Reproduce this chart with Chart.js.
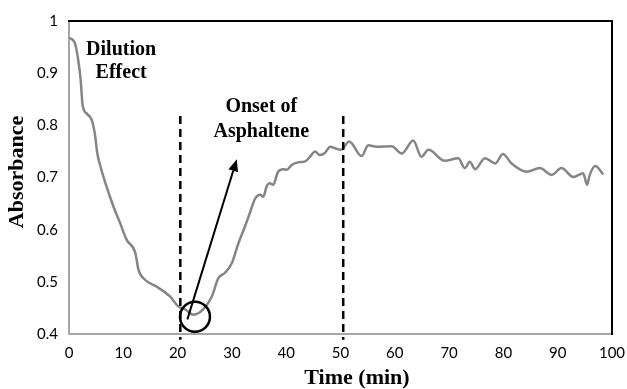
<!DOCTYPE html>
<html>
<head>
<meta charset="utf-8">
<script src="https://cdn.jsdelivr.net/npm/chart.js@4.4.0/dist/chart.umd.min.js"></script>
<style>
  html, body { margin: 0; padding: 0; background: #fff; }
  #wrap { width: 627px; height: 389px; position: relative; }
</style>
</head>
<body>
<div id="wrap"><canvas id="c"></canvas></div>
<script>
// ---- data ----
const timeMin = [0, 1.1, 1.7, 2.15, 2.5, 3.3, 4.2, 4.8, 5.2, 5.8, 6.9, 8.2, 9.4, 10.6, 12.2, 12.8, 14.0, 16.1, 18.6, 20.1,
  21.4, 22.9, 24.7, 26.3, 27.5, 28.7, 30.0, 31.2, 32.4, 33.3, 34.3, 35.2, 35.8, 36.4, 37.0, 37.6, 38.5, 39.5, 40.1, 41.0,
  42.2, 43.5, 44.4, 45.3, 46.2, 47.1, 48.1, 49.0, 50.1, 51.6, 53.9, 55.1, 56.7, 59.4, 61.3, 63.4, 64.9, 66.2, 69.2, 71.7,
  72.9, 73.8, 74.8, 76.6, 78.5, 79.9, 81.5, 84.3, 86.7, 88.9, 90.7, 92.9, 94.7, 95.4, 95.9, 96.9, 98.4];
const absorbance = [0.968, 0.957, 0.925, 0.887, 0.839, 0.822, 0.810, 0.781, 0.747, 0.721, 0.683, 0.644, 0.613, 0.581, 0.556, 0.523, 0.504, 0.491, 0.472, 0.453,
  0.447, 0.437, 0.447, 0.472, 0.507, 0.517, 0.536, 0.574, 0.606, 0.632, 0.660, 0.667, 0.663, 0.683, 0.689, 0.686, 0.711, 0.716, 0.715, 0.724,
  0.729, 0.731, 0.740, 0.750, 0.743, 0.747, 0.759, 0.756, 0.753, 0.769, 0.741, 0.762, 0.759, 0.760, 0.746, 0.771, 0.740, 0.753, 0.732, 0.737,
  0.718, 0.730, 0.716, 0.737, 0.727, 0.745, 0.727, 0.711, 0.718, 0.705, 0.718, 0.701, 0.708, 0.686, 0.705, 0.722, 0.706];
const xTicks = [0, 10, 20, 30, 40, 50, 60, 70, 80, 90, 100];
const yTicks = [0.4, 0.5, 0.6, 0.7, 0.8, 0.9, 1];
const dashedAt = [20.5, 50.5];
const dashedRange = [0.389, 0.818];
const onsetCircle = [23.2, 0.433];
const arrowFrom = [21.8, 0.428];
const arrowTo = [30.9, 0.735];
const notes = [
  { lines: ['Dilution', 'Effect'], x: 9.6, y: [0.944, 0.900] },
  { lines: ['Onset of', 'Asphaltene'], x: 35.4, y: [0.835, 0.788] }
];

const points = timeMin.map((t, i) => ({ x: t, y: absorbance[i] }));

const annot = {
  id: 'annot',
  afterDatasetsDraw(chart) {
    const { ctx, scales: { x, y } } = chart;
    ctx.save();
    ctx.strokeStyle = '#000';
    ctx.lineWidth = 2.5;
    ctx.setLineDash([8, 5]);
    dashedAt.forEach(v => {
      const px = x.getPixelForValue(v);
      ctx.beginPath();
      ctx.moveTo(px, y.getPixelForValue(dashedRange[1]));
      ctx.lineTo(px, y.getPixelForValue(dashedRange[0]));
      ctx.stroke();
    });
    ctx.setLineDash([]);
    ctx.lineWidth = 2.5;
    ctx.beginPath();
    ctx.arc(x.getPixelForValue(onsetCircle[0]), y.getPixelForValue(onsetCircle[1]), 15, 0, Math.PI * 2);
    ctx.stroke();
    const x0 = x.getPixelForValue(arrowFrom[0]), y0 = y.getPixelForValue(arrowFrom[1]);
    const x1 = x.getPixelForValue(arrowTo[0]), y1 = y.getPixelForValue(arrowTo[1]);
    const ang = Math.atan2(y1 - y0, x1 - x0);
    const hl = 12, hw = 5;
    const bx = x1 - hl * Math.cos(ang), by = y1 - hl * Math.sin(ang);
    ctx.lineWidth = 2;
    ctx.beginPath();
    ctx.moveTo(x0, y0);
    ctx.lineTo(bx, by);
    ctx.stroke();
    ctx.fillStyle = '#000';
    ctx.beginPath();
    ctx.moveTo(x1, y1);
    ctx.lineTo(bx + hw * Math.sin(ang), by - hw * Math.cos(ang));
    ctx.lineTo(bx - hw * Math.sin(ang), by + hw * Math.cos(ang));
    ctx.closePath();
    ctx.fill();
    ctx.font = 'bold 20px "Liberation Serif", "Times New Roman", serif';
    ctx.textAlign = 'center';
    ctx.textBaseline = 'middle';
    notes.forEach(n => {
      n.lines.forEach((s, i) => {
        ctx.fillText(s, x.getPixelForValue(n.x), y.getPixelForValue(n.y[i]));
      });
    });
    ctx.restore();
  }
};

const tickFont = { family: 'Lato, "Liberation Sans", sans-serif', size: 15 };
const titleFont = { family: '"Liberation Serif", "Times New Roman", serif', size: 22, weight: 'bold', lineHeight: 1 };
const noPadH = s => { s.paddingLeft = 0; s.paddingRight = 0; };
const noPadV = s => { s.paddingTop = 0; s.paddingBottom = 0; };

new Chart(document.getElementById('c'), {
  type: 'line',
  data: {
    datasets: [{
      label: 'Absorbance',
      data: points,
      borderColor: '#858585',
      borderWidth: 2.5,
      pointRadius: 0,
      tension: 0.4,
      cubicInterpolationMode: 'monotone',
      fill: false
    }]
  },
  options: {
    responsive: true,
    maintainAspectRatio: false,
    animation: false,
    layout: { padding: { left: 0, right: 15, top: 21, bottom: 0 } },
    plugins: { legend: { display: false }, tooltip: { enabled: false } },
    scales: {
      x: {
        type: 'linear', position: 'bottom', min: 0, max: 100,
        afterBuildTicks: s => { s.ticks = xTicks.map(v => ({ value: v })); },
        afterFit: s => { s.height = 55; noPadH(s); },
        grid: { display: false, drawTicks: false },
        border: { display: true, color: '#a6a6a6', width: 2 },
        ticks: { color: '#000', font: tickFont, padding: 10, maxRotation: 0 },
        title: { display: true, text: '      Time (min)', color: '#000', font: titleFont, padding: { top: 0, bottom: 0 } }
      },
      y: {
        type: 'linear', position: 'left', min: 0.4, max: 1,
        afterBuildTicks: s => { s.ticks = yTicks.map(v => ({ value: v })); },
        afterFit: s => { s.width = 69; noPadV(s); },
        grid: { display: false, drawTicks: false },
        border: { display: true, color: '#a6a6a6', width: 2 },
        ticks: { color: '#000', font: tickFont, padding: 11, callback: v => String(Number(v.toFixed(1))) },
        title: { display: true, text: '  Absorbance', color: '#000', font: titleFont, padding: { top: 6, bottom: 0 } }
      },
      x2: {
        type: 'linear', position: 'top', min: 0, max: 100,
        afterFit: s => { s.height = 0; noPadH(s); },
        grid: { display: false, drawTicks: false },
        border: { display: true, color: '#000', width: 2 },
        ticks: { display: false }
      },
      y2: {
        type: 'linear', position: 'right', min: 0.4, max: 1,
        afterFit: s => { s.width = 0; noPadV(s); },
        grid: { display: false, drawTicks: false },
        border: { display: true, color: '#000', width: 2 },
        ticks: { display: false }
      }
    }
  },
  plugins: [annot]
});
</script>
</body>
</html>
